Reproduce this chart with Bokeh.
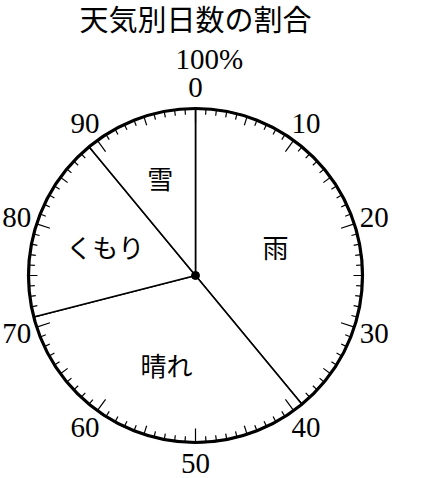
import math
from bokeh.plotting import figure
from bokeh.models import Range1d
from bokeh.core.properties import value
from bokeh.embed import file_html
from bokeh.resources import INLINE

# ---- data ----
title_text = "天気別日数の割合"
categories = ["雨", "晴れ", "くもり", "雪"]
percents = [39, 32, 18, 11]
tick_values = [0, 10, 20, 30, 40, 50, 60, 70, 80, 90]
tick_labels = ["0", "10", "20", "30", "40", "50", "60", "70", "80", "90"]
total_label = "100%"

# ---- layout constants ----
W, H = 434, 478
CX, CY = 195, 275  # page pixel position of the centre
R = 167
label_r = [85, 94, 95, 104]

p = figure(width=W, height=H, output_backend="svg", toolbar_location=None,
           x_range=Range1d(-CX, W - CX), y_range=Range1d(CY - H, CY),
           x_axis_type=None, y_axis_type=None, min_border=0)
p.outline_line_color = None
p.grid.visible = False
p.background_fill_color = "white"


def ang(pct):
    return math.pi / 2 - 2 * math.pi * pct / 100.0


starts, ends = [], []
acc = 0
for v in percents:
    starts.append(acc)
    acc += v
    ends.append(acc)

p.wedge(x=0, y=0, radius=R, radius_units="data",
        start_angle=[ang(s) for s in starts], end_angle=[ang(e) for e in ends],
        direction="clock", fill_color="white", line_color="black", line_width=1.6)

# ticks
x0, y0, x1, y1 = [], [], [], []
for i in range(100):
    a = ang(i)
    L = 14 if i % 10 == 0 else (9 if i % 5 == 0 else 6)
    x0.append(R * math.cos(a)); y0.append(R * math.sin(a))
    x1.append((R - L) * math.cos(a)); y1.append((R - L) * math.sin(a))
p.segment(x0=x0, y0=y0, x1=x1, y1=y1, line_color="black", line_width=1.2)

# outer circle
p.circle(x=[0], y=[0], radius=R, radius_units="data", fill_color=None,
         line_color="black", line_width=3.2)

# centre dot
p.scatter(x=[0], y=[0], size=8, color="black")

# tick labels
lr = 188
p.text(x=[lr * math.cos(ang(t)) for t in tick_values],
       y=[lr * math.sin(ang(t)) for t in tick_values],
       text=tick_labels, text_font=value("Liberation Serif"), text_font_size="29px",
       text_align="center", text_baseline="middle", text_color="black")
p.text(x=[-20], y=[CY - 58], text=[total_label], text_font=value("Liberation Serif"),
       text_font_size="29px", text_align="left", text_baseline="middle", text_color="black")

# category labels
mids = [(s + e) / 2 for s, e in zip(starts, ends)]
p.text(x=[r * math.cos(ang(m)) for r, m in zip(label_r, mids)],
       y=[r * math.sin(ang(m)) for r, m in zip(label_r, mids)],
       text=categories, text_font=value("Noto Sans CJK JP"), text_font_size="26px",
       text_align="center", text_baseline="middle", text_color="black")

# title
p.text(x=[0], y=[CY - 17], text=[title_text], text_font=value("Noto Sans CJK JP"),
       text_font_size="29px", text_align="center", text_baseline="middle", text_color="black")

open("out.html", "w").write(file_html(p, INLINE))
